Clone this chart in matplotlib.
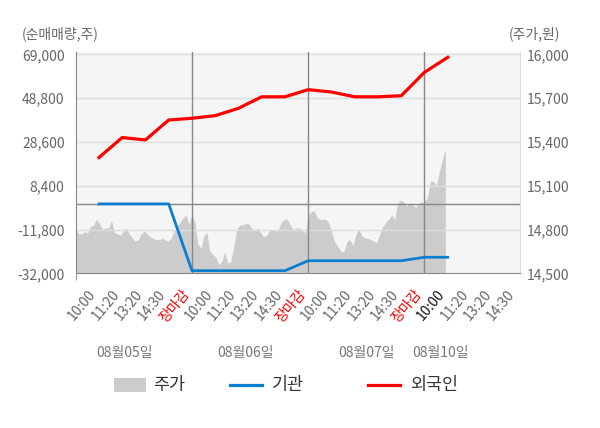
import numpy as np
import matplotlib
matplotlib.use('Agg')
import matplotlib.pyplot as plt
from matplotlib.lines import Line2D
from matplotlib.patches import Rectangle

plt.rcParams['font.family'] = ['Noto Sans CJK KR', 'DejaVu Sans']

# 주가 (10분 간격, 09:00 ~ 15:30)
price_d1 = [14800, 14770, 14770, 14785, 14775, 14820, 14830, 14870, 14840, 14800,
            14810, 14810, 14860, 14780, 14770, 14760, 14790, 14810, 14770, 14740,
            14720, 14730, 14770, 14790, 14770, 14750, 14740, 14730, 14730, 14740,
            14730, 14720, 14740, 14790, 14820, 14850, 14880, 14900, 14840, 14900]
price_d2 = [14900, 14850, 14700, 14670, 14760, 14780, 14650, 14630, 14610, 14560,
            14580, 14650, 14570, 14580, 14680, 14800, 14830, 14830, 14840, 14840,
            14810, 14790, 14810, 14780, 14750, 14760, 14790, 14800, 14790, 14800,
            14850, 14870, 14870, 14830, 14800, 14810, 14810, 14790, 14780, 14900]
price_d3 = [14900, 14920, 14930, 14880, 14870, 14870, 14870, 14840, 14770, 14710,
            14680, 14650, 14650, 14720, 14730, 14690, 14770, 14800, 14760, 14740,
            14740, 14730, 14720, 14710, 14770, 14820, 14850, 14870, 14900, 14870,
            14980, 15000, 14990, 14960, 14980, 14970, 14950, 14980, 14990, 14980]
price_d4 = [14990, 15020, 15130, 15130, 15100, 15200, 15280, 15350]

# 순매매량 (하루 5구간)
flow_x = [0.2, 0.4, 0.6, 0.8, 1.0, 1.2, 1.4, 1.6, 1.8, 2.0, 2.2, 2.4, 2.6, 2.8, 3.0, 3.2]
foreign = [21400, 30600, 29500, 38700, 39500, 40700, 44100, 49400, 49400,
           52700, 51600, 49400, 49400, 49900, 60700, 67600]
inst = [0, 0, 0, 0, -30800, -30800, -30800, -30800, -30800,
        -26200, -26200, -26200, -26200, -26200, -24600, -24600]

xlabels = ['10:00', '11:20', '13:20', '14:30', '장마감'] * 3 + ['10:00', '11:20', '13:20', '14:30']
dates = ['08월05일', '08월06일', '08월07일', '08월10일']
date_pos = [0.42, 1.46, 2.50, 3.14]
left_ticks = [-32000, -11800, 8400, 28600, 48800, 69000]
right_ticks = [14500, 14800, 15100, 15400, 15700, 16000]

blue = '#0a7fcf'
red = '#ff0000'
gray_txt = '#666666'

fig = plt.figure(figsize=(6, 4.28), dpi=100)
ax = fig.add_axes([75.7 / 600, 1 - 273.3 / 428, 444.6 / 600, 221.3 / 428])
ax.set_facecolor('#f5f5f5')

px = []
pp = []
for d, p in enumerate([price_d1, price_d2, price_d3, price_d4]):
    px += list(d + np.arange(len(p)) / 39.0)
    pp += p
ax.fill_between(px, pp, 14500, color='#cccccc', lw=0, zorder=1)
ax.set_ylim(14500, 16016)
ax.set_xlim(0, 3.824)

for t in right_ticks[1:]:
    ax.axhline(t, color='#dddddd', lw=1, zorder=2)
for d in [1, 2, 3]:
    ax.axvline(d, color='#888888', lw=1, zorder=3)

xpos = [0.2 * (k + 1) for k in range(len(xlabels))]
ax.set_xticks(xpos)
ax.set_xticklabels(xlabels, rotation=50, ha='right')
ax.tick_params(axis='x', which='major', length=0, pad=10, labelsize=10, labelcolor=gray_txt)
for i, lab in enumerate(ax.get_xticklabels()):
    if xlabels[i] == '장마감':
        lab.set_color('red')
    elif i == 15:
        lab.set_color('#111111')
ax.set_xticks([0, 1, 2, 3], minor=True)
ax.tick_params(axis='x', which='minor', length=5, color='#888888')

ax.spines['top'].set_visible(False)
ax.spines['left'].set_color('#888888')
ax.spines['bottom'].set_color('#888888')
ax.spines['right'].set_color('#dddddd')

ax2 = ax.twinx()
ax2.set_ylim(-32000, 70060)
ax2.axhline(0, color='#888888', lw=1, zorder=1)
ax2.plot(flow_x, inst, color=blue, lw=2.0, zorder=3)
ax2.plot(flow_x, foreign, color=red, lw=2.3, zorder=4)
for s in ax2.spines.values():
    s.set_visible(False)

# 순매매량은 왼쪽, 주가는 오른쪽 눈금
ax2.yaxis.tick_left()
ax2.set_yticks(left_ticks)
ax2.set_yticklabels(['{:,}'.format(t) for t in left_ticks])
ax2.tick_params(axis='y', length=0, pad=8, labelsize=10, labelcolor=gray_txt)

ax.yaxis.tick_right()
ax.set_yticks(right_ticks)
ax.set_yticklabels(['{:,}'.format(t) for t in right_ticks])
ax.tick_params(axis='y', length=0, pad=5, labelsize=10, labelcolor=gray_txt)

for name, xp in zip(dates, date_pos):
    ax.text(xp, -0.36, name, transform=ax.get_xaxis_transform(), ha='center', va='center',
            fontsize=10, color='#777777')

fig.text(22 / 600, 1 - 34 / 428, '(순매매량,주)', ha='left', va='center', fontsize=10, color=gray_txt)
fig.text(509 / 600, 1 - 34 / 428, '(주가,원)', ha='left', va='center', fontsize=10, color=gray_txt)

# 범례
ly = 1 - 385 / 428
fig.add_artist(Rectangle((114 / 600, ly - 7 / 428), 32 / 600, 14 / 428,
                         transform=fig.transFigure, color='#cccccc', lw=0))
fig.text(153 / 600, ly, '주가', va='center', fontsize=12.5, color='#333333')
fig.add_artist(Line2D([230 / 600, 262 / 600], [ly, ly], transform=fig.transFigure, color=blue, lw=2.3))
fig.text(272 / 600, ly, '기관', va='center', fontsize=12.5, color='#333333')
fig.add_artist(Line2D([368 / 600, 400 / 600], [ly, ly], transform=fig.transFigure, color=red, lw=2.3))
fig.text(410 / 600, ly, '외국인', va='center', fontsize=12.5, color='#333333')

fig.savefig('out.png', dpi=100)
